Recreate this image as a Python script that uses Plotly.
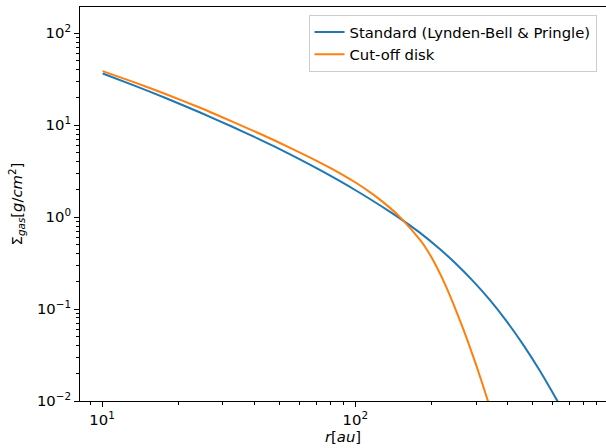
import plotly.graph_objects as go

# Standard (Lynden-Bell & Pringle) profile
r_std = [10.06, 13.43, 17.92, 24.27, 32.86, 42.66, 55.05, 74.54, 101.0, 136.8, 153.5,
         179.8, 215.6, 250.9, 291.9, 339.8, 395.5, 460.0, 535.6, 626.9, 672.7]
sigma_std = [36.49, 26.95, 19.62, 13.80, 9.54, 6.842, 4.838, 3.118, 1.935, 1.148, 0.928,
             0.6775, 0.4497, 0.3074, 0.2014, 0.1258, 0.0739, 0.0410, 0.02131, 0.01010,
             0.0071]

# Cut-off disk profile
r_cut = [10.06, 13.43, 17.92, 24.27, 32.86, 42.66, 55.05, 74.54, 86.75, 101.0, 117.5,
         136.8, 153.5, 179.8, 191.0, 209.2, 229.2, 266.5, 301.1, 331.6, 346.0]
sigma_cut = [38.65, 29.22, 21.70, 15.55, 10.85, 7.917, 5.702, 3.776, 3.015, 2.347, 1.765,
             1.268, 0.9397, 0.5679, 0.4505, 0.2908, 0.1714, 0.06135, 0.02396, 0.01066,
             0.00733]

names = ["Standard (Lynden-Bell & Pringle)", "Cut-off disk"]
colors = ["#1f77b4", "#ff7f0e"]

x_ticks = [10, 100]
x_ticktext = ["10<sup>1</sup>", "10<sup>2</sup>"]
y_ticks = [0.01, 0.1, 1, 10, 100]
y_ticktext = ["10<sup>−2</sup>", "10<sup>−1</sup>", "10<sup>0</sup>",
              "10<sup>1</sup>", "10<sup>2</sup>"]

FONT = "DejaVu Sans"
FS = 14.8

fig = go.Figure()
fig.add_trace(go.Scatter(x=r_std, y=sigma_std, mode="lines", name=names[0],
                         line=dict(color=colors[0], width=2, shape="spline", smoothing=0.6)))
fig.add_trace(go.Scatter(x=r_cut, y=sigma_cut, mode="lines", name=names[1],
                         line=dict(color=colors[1], width=2, shape="spline", smoothing=0.6)))

axis_common = dict(
    showgrid=False, zeroline=False, showline=True, linecolor="black", linewidth=1,
    ticks="outside", ticklen=5, tickwidth=1, tickcolor="black",
    tickfont=dict(family=FONT, size=FS, color="black"),
    minor=dict(ticks="outside", ticklen=3, tickwidth=0.8, tickcolor="black",
               dtick="D1", showgrid=False),
)

fig.update_layout(
    width=606, height=448,
    margin=dict(l=80, r=0, t=7, b=47),
    paper_bgcolor="white", plot_bgcolor="white",
    font=dict(family=FONT, size=FS, color="black"),
    xaxis=dict(type="log", range=[0.913, 2.99], tickvals=x_ticks, ticktext=x_ticktext,
               mirror=True,
               title=dict(text="<i>r</i>[<i>au</i>]", standoff=3,
                          font=dict(family=FONT, size=FS)),
               **axis_common),
    yaxis=dict(type="log", range=[-2, 2.285], tickvals=y_ticks, ticktext=y_ticktext,
               title=dict(text="Σ<sub><i>gas</i></sub>[<i>g</i>/<i>cm</i><sup>2</sup>]",
                          standoff=10, font=dict(family=FONT, size=FS)),
               **axis_common),
    legend=dict(x=0.982, y=0.98, xanchor="right", yanchor="top",
                bgcolor="rgba(255,255,255,0.8)", bordercolor="#cccccc", borderwidth=1,
                font=dict(family=FONT, size=FS, color="black"),
                tracegroupgap=0),
    showlegend=True,
)

fig.write_html("out.html", config={"displayModeBar": False},
               post_script="document.body.style.margin='0px';document.body.style.overflow='hidden';")
